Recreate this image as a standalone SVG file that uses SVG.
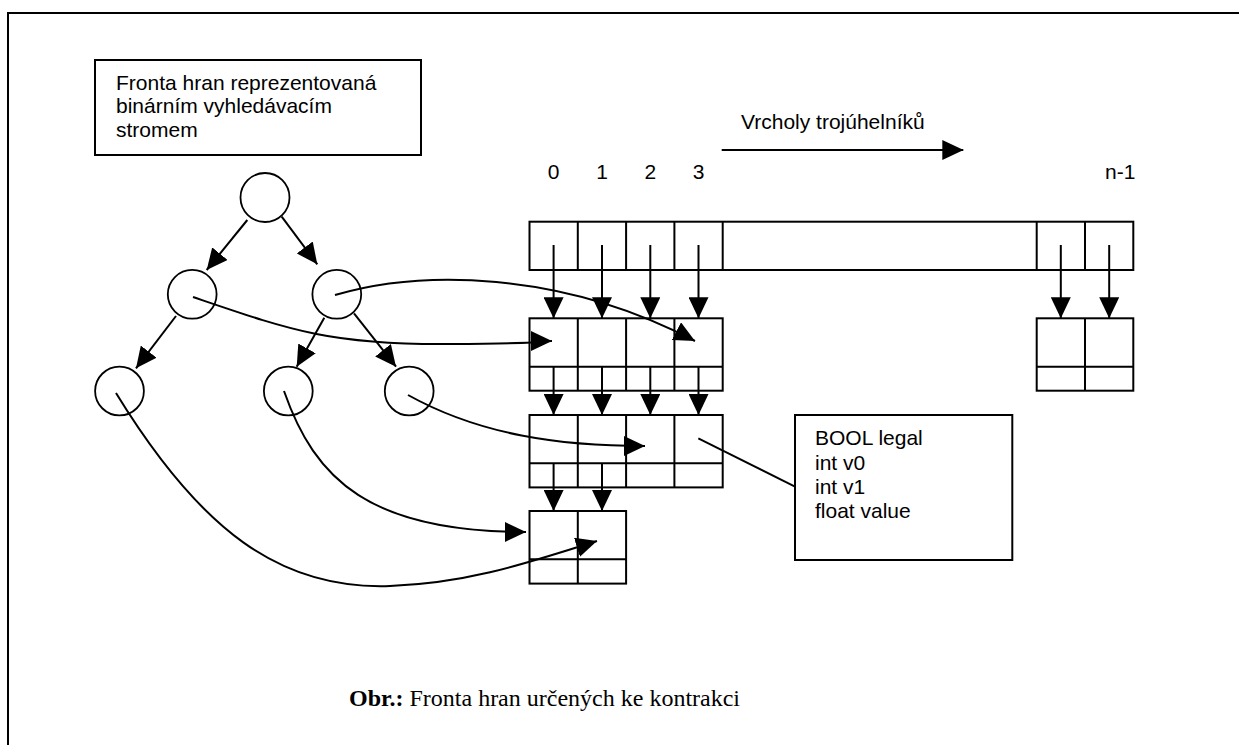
<svg xmlns="http://www.w3.org/2000/svg" width="1239" height="745" viewBox="0 0 1239 745">
  <style>
    .ln { fill: none; stroke: #000; stroke-width: 2; }
    .box { fill: #fff; stroke: #000; stroke-width: 2; }
    .node { fill: #fff; stroke: #000; stroke-width: 1.8; }
    .lbl { font-family: "Liberation Sans", Arial, sans-serif; font-size: 21px; fill: #000; }
    .cap { font-family: "Liberation Serif", "Times New Roman", serif; font-size: 24px; fill: #000; }
  </style>
  <defs>
    <marker id="arr" markerUnits="userSpaceOnUse" markerWidth="21" markerHeight="20" refX="21" refY="10" orient="auto">
      <path d="M0,0 L21,10 L0,20 Z" fill="#000"/>
    </marker>
  </defs>

  <rect width="1239" height="745" fill="#fff"/>
  <!-- frame -->
  <path class="ln" d="M8,745 V13 H1239" stroke-width="2.2"/>

  <!-- legend box for the tree -->
  <g id="tree-legend">
    <rect class="box" x="95" y="60" width="326" height="95"/>
    <text class="lbl" x="116" y="90">Fronta hran reprezentovaná</text>
    <text class="lbl" x="116" y="113">binárním vyhledávacím</text>
    <text class="lbl" x="116" y="137">stromem</text>
  </g>

  <!-- binary search tree -->
  <g id="tree-root"><circle class="node" cx="265" cy="197.5" r="24.5"/></g>
  <g id="tree-l"><circle class="node" cx="192.2" cy="294.3" r="24.4"/></g>
  <g id="tree-r"><circle class="node" cx="336.8" cy="294.3" r="24.4"/></g>
  <g id="tree-ll"><circle class="node" cx="119.5" cy="391" r="24.4"/></g>
  <g id="tree-rl"><circle class="node" cx="288.3" cy="391" r="24.4"/></g>
  <g id="tree-rr"><circle class="node" cx="409.2" cy="391" r="24.4"/></g>

  <!-- vertex axis -->
  <g id="vertex-axis">
    <text class="lbl" x="741" y="129">Vrcholy trojúhelníků</text>
    <text class="lbl" x="553.6" y="179" text-anchor="middle">0</text>
    <text class="lbl" x="602" y="179" text-anchor="middle">1</text>
    <text class="lbl" x="650.3" y="179" text-anchor="middle">2</text>
    <text class="lbl" x="698.5" y="179" text-anchor="middle">3</text>
    <text class="lbl" x="1105" y="179">n-1</text>
  </g>

  <!-- vertex array -->
  <g id="vertex-array">
    <rect class="box" x="529.5" y="221.7" width="603.8" height="48.3"/>
    <path class="ln" d="M577.8,221.7 V270 M626.1,221.7 V270 M674.4,221.7 V270 M722.7,221.7 V270 M1036.7,221.7 V270 M1085,221.7 V270"/>
  </g>

  <!-- edge records, first level -->
  <g id="row1">
    <rect class="box" x="529.5" y="318.3" width="193.2" height="72.4"/>
    <path class="ln" d="M577.8,318.3 V390.7 M626.1,318.3 V390.7 M674.4,318.3 V390.7 M529.5,366.7 H722.7"/>
  </g>
  <g id="row1-last">
    <rect class="box" x="1036.7" y="318.3" width="96.6" height="72.4"/>
    <path class="ln" d="M1085,318.3 V390.7 M1036.7,366.7 H1133.3"/>
  </g>

  <!-- edge records, second level -->
  <g id="row2">
    <rect class="box" x="529.5" y="415" width="193.2" height="72.4"/>
    <path class="ln" d="M577.8,415 V487.4 M626.1,415 V487.4 M674.4,415 V487.4 M529.5,463.3 H722.7"/>
  </g>

  <!-- edge records, third level -->
  <g id="row3">
    <rect class="box" x="529.5" y="511" width="96.6" height="72.6"/>
    <path class="ln" d="M577.8,511 V583.6 M529.5,559.3 H626.1"/>
  </g>

  <!-- record layout -->
  <g id="record-struct">
    <rect class="box" x="795" y="415" width="217.3" height="145"/>
    <text class="lbl" x="815" y="445">BOOL legal</text>
    <text class="lbl" x="815" y="470">int v0</text>
    <text class="lbl" x="815" y="494">int v1</text>
    <text class="lbl" x="815" y="518">float value</text>
  </g>

  <!-- connectors -->
  <g id="connectors" class="ln">
    <!-- axis direction -->
    <path d="M721.7,150 H963.3" marker-end="url(#arr)"/>
    <!-- tree edges -->
    <path d="M247.3,220 L206.7,270" marker-end="url(#arr)"/>
    <path d="M281.7,216.7 L317.3,264.3" marker-end="url(#arr)"/>
    <path d="M176,316 L136,368.3" marker-end="url(#arr)"/>
    <path d="M324.3,317.7 L296.7,366.7" marker-end="url(#arr)"/>
    <path d="M354,313.3 L396,366.7" marker-end="url(#arr)"/>
    <!-- array to first level -->
    <path d="M553.6,245 V318.3" marker-end="url(#arr)"/>
    <path d="M602,245 V318.3" marker-end="url(#arr)"/>
    <path d="M650.3,245 V318.3" marker-end="url(#arr)"/>
    <path d="M698.5,245 V318.3" marker-end="url(#arr)"/>
    <path d="M1060.8,245 V318.3" marker-end="url(#arr)"/>
    <path d="M1109.2,245 V318.3" marker-end="url(#arr)"/>
    <!-- first level to second level -->
    <path d="M553.6,366.7 V415" marker-end="url(#arr)"/>
    <path d="M602,366.7 V415" marker-end="url(#arr)"/>
    <path d="M650.3,366.7 V415" marker-end="url(#arr)"/>
    <path d="M698.5,366.7 V415" marker-end="url(#arr)"/>
    <!-- second level to third level -->
    <path d="M553.6,463.3 V511" marker-end="url(#arr)"/>
    <path d="M602,463.3 V511" marker-end="url(#arr)"/>
    <!-- tree nodes to records -->
    <path d="M193,297 C290,330 330,345 450,344 S530,341 552,341" marker-end="url(#arr)"/>
    <path d="M335,295 C420,270 560,270 695,341" marker-end="url(#arr)"/>
    <path d="M408,395 C480,435 560,446 645,446" marker-end="url(#arr)"/>
    <path d="M284,391 C315,480 370,532 526,532" marker-end="url(#arr)"/>
    <path d="M116,393 C200,530 280,590 390,586 C470,583 530,562 597,541" marker-end="url(#arr)"/>
    <!-- record to layout -->
    <path d="M698.3,438.3 L795,486.7"/>
  </g>

  <!-- caption -->
  <text class="cap" x="349" y="706"><tspan font-weight="bold">Obr.:</tspan> Fronta hran určených ke kontrakci</text>
</svg>
